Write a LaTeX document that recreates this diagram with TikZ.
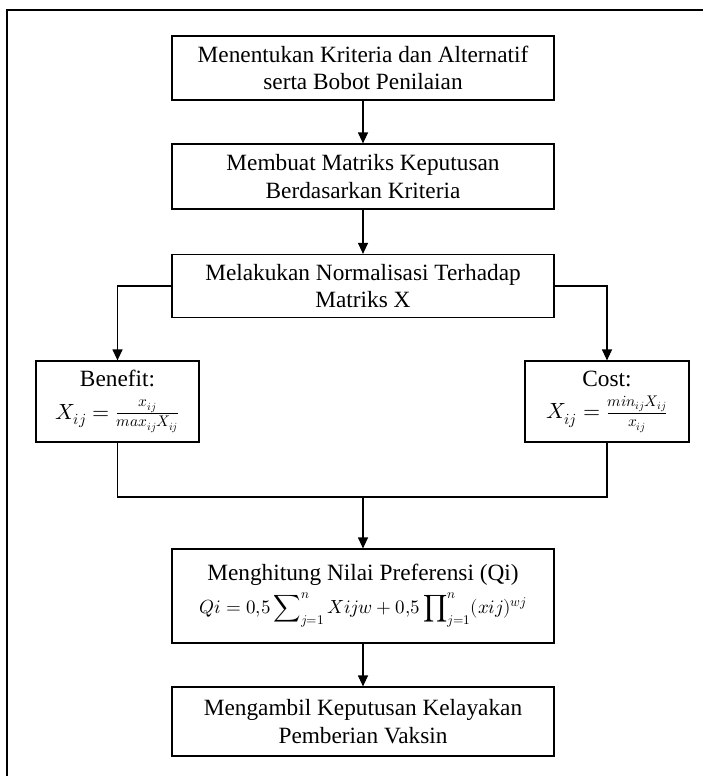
\documentclass[tikz,border=0pt]{standalone}
\usepackage{fontspec}
\usepackage{unicode-math}
\setmainfont{Liberation Serif}
\setmathfont{Latin Modern Math}
\usetikzlibrary{arrows.meta}
\begin{document}
\begin{tikzpicture}[x=1pt,y=-1pt,
  box/.style={draw,line width=1.2pt,minimum width=382pt,inner sep=0pt,align=center,
    font=\fontsize{23.3}{27.5}\selectfont},
  sidebox/.style={draw,line width=1.2pt,minimum width=163pt,minimum height=81pt,inner sep=0pt,align=center,
    font=\fontsize{23.3}{27.5}\selectfont},
  arr/.style={line width=1.2pt,-{Triangle[length=11pt,width=10pt]}},
  ln/.style={line width=1.2pt}]
\useasboundingbox (0,0) rectangle (703,776);
\draw[line width=1.1pt] (7,776) -- (7,10) -- (703,10);

\node[box,minimum height=64pt] (b1) at (363,68) {Menentukan Kriteria dan Alternatif\\serta Bobot Penilaian};
\node[box,minimum height=65pt] (b2) at (363,176.5) {Membuat Matriks Keputusan\\Berdasarkan Kriteria};
\node[box,minimum height=63pt] (b3) at (363,286) {Melakukan Normalisasi Terhadap\\Matriks X};
\node[sidebox] (ben) at (117.5,401.5) {Benefit:\\[5pt] {\fontsize{22}{24}\selectfont $X_{ij} = \frac{x_{ij}}{max_{ij}X_{ij}}$}};
\node[sidebox,minimum width=164pt] (cost) at (607,401.5) {Cost:\\[5pt] {\fontsize{22}{24}\selectfont $X_{ij} = \frac{min_{ij}X_{ij}}{x_{ij}}$}};
\node[box,minimum height=94pt] (b4) at (363,596) {Menghitung Nilai Preferensi (Qi)\\[5pt]
  {\fontsize{19}{22}\selectfont $\displaystyle Qi = 0{,}5 \sum\nolimits_{j=1}^{n} Xijw + 0{,}5 \prod\nolimits_{j=1}^{n} (xij)^{wj}$}};
\node[box,minimum height=69pt] (b5) at (363,721.5) {Mengambil Keputusan Kelayakan\\Pemberian Vaksin};

\coordinate (m) at (363,497);

\draw[arr] (b1.south) -- (b2.north);
\draw[arr] (b2.south) -- (b3.north);
\draw[arr] (b3.west) -| (ben.north);
\draw[arr] (b3.east) -| (cost.north);
\draw[ln] (ben.south) |- (m) -| (cost.south);
\draw[arr] (m) -- (b4.north);
\draw[arr] (b4.south) -- (b5.north);
\end{tikzpicture}
\end{document}
